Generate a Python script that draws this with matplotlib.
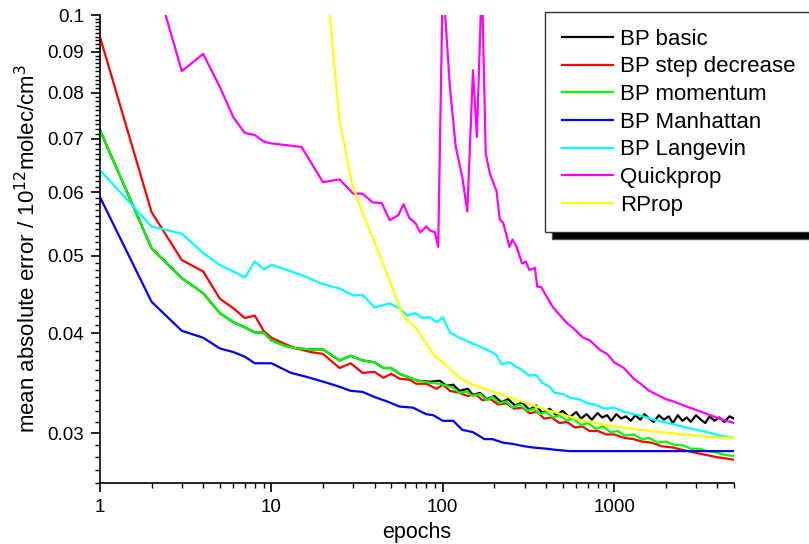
import matplotlib

matplotlib.use("Agg")
import matplotlib.pyplot as plt
from matplotlib.ticker import FixedLocator, MultipleLocator, NullFormatter, LogLocator

plt.rcParams["font.family"] = ["Liberation Sans", "DejaVu Sans"]

# epochs / mean absolute error
basic_epochs = [1, 2, 3, 4, 5, 6, 7, 8, 9, 10, 12, 14, 17, 20, 25, 29, 34, 40, 45, 50,
                56, 64, 72, 84, 96, 105, 115, 125, 140, 150, 165, 180, 200, 220, 240,
                265, 290, 320, 350, 380, 420, 460, 500, 550, 600, 640, 690, 740, 800,
                850, 910, 960, 1030, 1100, 1170, 1250, 1330, 1420, 1500, 1600, 1700,
                1820, 1950, 2080, 2200, 2350, 2500, 2650, 2800, 3000, 3200, 3400, 3600,
                3850, 4100, 4400, 4700, 5000]
basic_err = [0.0718, 0.0511, 0.0469, 0.0449, 0.0424, 0.0413, 0.0407, 0.0401, 0.0401,
             0.0392, 0.0386, 0.0383, 0.0382, 0.0382, 0.0370, 0.0375, 0.0370, 0.0368,
             0.0362, 0.0362, 0.0356, 0.0352, 0.0349, 0.0348, 0.0349, 0.0344, 0.0345,
             0.0339, 0.0341, 0.0335, 0.0337, 0.0331, 0.0334, 0.0328, 0.0331, 0.0325,
             0.0328, 0.0321, 0.0325, 0.0318, 0.0322, 0.0316, 0.0320, 0.0314, 0.0319,
             0.0313, 0.0317, 0.0312, 0.0318, 0.0314, 0.0316, 0.0311, 0.0317, 0.0313,
             0.0315, 0.0311, 0.0316, 0.0312, 0.0317, 0.0313, 0.0310, 0.0316, 0.0312,
             0.0315, 0.0309, 0.0316, 0.0311, 0.0314, 0.0310, 0.0316, 0.0312, 0.0309,
             0.0315, 0.0311, 0.0314, 0.0310, 0.0315, 0.0313]

step_epochs = [1, 2, 3, 4, 5, 6, 7, 8, 9, 10, 12, 14, 17, 20, 25, 29, 34, 40, 45, 50,
               56, 64, 70, 80, 92, 100, 110, 125, 140, 155, 170, 190, 210, 235, 260,
               290, 320, 355, 390, 430, 480, 530, 590, 650, 720, 800, 900, 1000, 1150,
               1300, 1450, 1650, 1900, 2200, 2500, 2900, 3400, 4000, 4500, 5000]
step_err = [0.0939, 0.0567, 0.0494, 0.0478, 0.0442, 0.0430, 0.0418, 0.0421, 0.0403,
            0.0395, 0.0388, 0.0383, 0.0379, 0.0377, 0.0362, 0.0367, 0.0357, 0.0358,
            0.0352, 0.0356, 0.0351, 0.0350, 0.0346, 0.0346, 0.0341, 0.0345, 0.0339,
            0.0337, 0.0334, 0.0336, 0.0330, 0.0331, 0.0326, 0.0327, 0.0322, 0.0323,
            0.0318, 0.0319, 0.0313, 0.0314, 0.0309, 0.0310, 0.0305, 0.0306, 0.0302,
            0.0302, 0.0299, 0.0299, 0.0296, 0.0295, 0.0293, 0.0292, 0.0289, 0.0288,
            0.0286, 0.0284, 0.0282, 0.0280, 0.0279, 0.0278]

mom_epochs = [1, 2, 3, 4, 5, 6, 7, 8, 9, 10, 12, 14, 17, 20, 25, 29, 34, 40, 45, 50,
              56, 64, 72, 84, 96, 105, 115, 125, 138, 150, 165, 180, 195, 215, 235,
              255, 280, 310, 340, 370, 400, 440, 480, 530, 580, 640, 700, 780, 860,
              950, 1050, 1150, 1300, 1450, 1600, 1800, 2000, 2250, 2500, 2800, 3100,
              3500, 3900, 4400, 5000]
mom_err = [0.0718, 0.0511, 0.0469, 0.0449, 0.0424, 0.0413, 0.0407, 0.0401, 0.0401,
           0.0392, 0.0386, 0.0383, 0.0382, 0.0382, 0.0370, 0.0375, 0.0370, 0.0368,
           0.0362, 0.0362, 0.0356, 0.0352, 0.0349, 0.0347, 0.0346, 0.0344, 0.0342,
           0.0337, 0.0338, 0.0334, 0.0336, 0.0330, 0.0333, 0.0327, 0.0329, 0.0323,
           0.0326, 0.0320, 0.0322, 0.0317, 0.0319, 0.0314, 0.0316, 0.0311, 0.0313,
           0.0307, 0.0309, 0.0304, 0.0306, 0.0301, 0.0302, 0.0298, 0.0299, 0.0295,
           0.0296, 0.0292, 0.0293, 0.0290, 0.0290, 0.0287, 0.0287, 0.0285, 0.0284,
           0.0282, 0.0281]

manh_epochs = [1, 2, 3, 4, 5, 6, 7, 8, 9, 10, 13, 16, 21, 25, 29, 34, 40, 47, 56, 67,
               80, 88, 100, 115, 130, 150, 175, 195, 225, 255, 300, 335, 400, 460, 550,
               650, 1000, 2000, 5000]
manh_err = [0.0592, 0.0438, 0.0403, 0.0395, 0.0383, 0.0379, 0.0374, 0.0367, 0.0367,
            0.0367, 0.0357, 0.0353, 0.0347, 0.0343, 0.0339, 0.0338, 0.0333, 0.0329,
            0.0324, 0.0323, 0.0317, 0.0316, 0.0311, 0.0311, 0.0303, 0.0301, 0.0295,
            0.0295, 0.0292, 0.0291, 0.0289, 0.0288, 0.0287, 0.0286, 0.0285, 0.0285,
            0.0285, 0.0285, 0.0285]

lang_epochs = [1, 2, 3, 4, 5, 6, 7, 8, 9, 10, 12, 15, 20, 25, 30, 34, 40, 49, 56, 62,
               69, 76, 84, 92, 100, 110, 125, 143, 165, 188, 205, 220, 245, 270, 290,
               320, 350, 380, 420, 450, 500, 560, 620, 700, 770, 870, 1000, 1150, 1400,
               1700, 2200, 2800, 3500, 4200, 5000]
lang_err = [0.0640, 0.0544, 0.0533, 0.0504, 0.0487, 0.0478, 0.0470, 0.0492, 0.0481,
            0.0487, 0.0481, 0.0473, 0.0461, 0.0455, 0.0446, 0.0447, 0.0431, 0.0436,
            0.0430, 0.0421, 0.0424, 0.0418, 0.0419, 0.0413, 0.0419, 0.0401, 0.0395,
            0.0390, 0.0385, 0.0380, 0.0376, 0.0366, 0.0368, 0.0363, 0.0360, 0.0354,
            0.0355, 0.0347, 0.0343, 0.0337, 0.0336, 0.0332, 0.0331, 0.0327, 0.0326,
            0.0322, 0.0323, 0.0319, 0.0316, 0.0312, 0.0308, 0.0304, 0.0301, 0.0298,
            0.0296]

qp_epochs = [2, 3, 4, 5, 6, 7, 8, 9, 10, 15, 20, 25, 30, 34, 39, 44, 49, 55, 59, 64,
             69, 74, 80, 84, 90, 94, 100, 110, 119, 130, 139, 150, 158, 169, 178, 188,
             206, 215, 225, 245, 255, 270, 290, 305, 320, 345, 355, 375, 400, 440, 530,
             570, 660, 720, 830, 910, 1000, 1140, 1300, 1400, 1600, 2000, 2200, 2760,
             3500, 4300, 5000]
qp_err = [0.115, 0.0851, 0.0894, 0.0813, 0.0745, 0.0712, 0.0708, 0.0695, 0.0691,
          0.0684, 0.0618, 0.0623, 0.0598, 0.0598, 0.0583, 0.0582, 0.0554, 0.0562,
          0.0580, 0.0557, 0.0550, 0.0535, 0.0544, 0.0538, 0.0535, 0.0513, 0.111,
          0.0813, 0.0684, 0.0627, 0.0568, 0.0853, 0.0704, 0.111, 0.0672, 0.0634,
          0.0602, 0.0555, 0.0550, 0.0513, 0.0524, 0.0513, 0.0489, 0.0492, 0.0480,
          0.0483, 0.0458, 0.0457, 0.0446, 0.0431, 0.0412, 0.0407, 0.0395, 0.0392,
          0.0381, 0.0377, 0.0368, 0.0362, 0.0351, 0.0347, 0.0339, 0.0331, 0.0329,
          0.0323, 0.0317, 0.0312, 0.0309]

rp_epochs = [20, 24.8, 29.5, 31.9, 34.2, 41.8, 58.6, 70.5, 87.6, 105.5, 125, 150, 215,
             310, 400, 630, 910, 1400, 2200, 3500, 5000]
rp_err = [0.125, 0.0745, 0.0616, 0.0587, 0.0565, 0.0508, 0.0421, 0.0405, 0.0377,
          0.0364, 0.0352, 0.0345, 0.0336, 0.0327, 0.0321, 0.0312, 0.0307, 0.0303,
          0.0300, 0.0297, 0.0296]

labels = ["BP basic", "BP step decrease", "BP momentum", "BP Manhattan",
          "BP Langevin", "Quickprop", "RProp"]
colors = ["#000000", "#ff0000", "#00ff00", "#0000ff", "#00ffff", "#ff00ff", "#ffff00"]
series = [(basic_epochs, basic_err), (step_epochs, step_err), (mom_epochs, mom_err),
          (manh_epochs, manh_err), (lang_epochs, lang_err), (qp_epochs, qp_err),
          (rp_epochs, rp_err)]

y_major = [0.03, 0.04, 0.05, 0.06, 0.07, 0.08, 0.09, 0.1]
y_labels = ["0.03", "0.04", "0.05", "0.06", "0.07", "0.08", "0.09", "0.1"]
x_major = [1, 10, 100, 1000]
x_labels = ["1", "10", "100", "1000"]

fig = plt.figure(figsize=(8.09, 5.44), dpi=100)
ax = fig.add_axes([0.1236, 0.1121, 0.7837, 0.8603])

for (ep, err), lab, col in zip(series, labels, colors):
    ax.plot(ep, err, color=col, lw=1.6, label=lab)

ax.set_xscale("log")
ax.set_yscale("log")
ax.set_xlim(1, 5000)
ax.set_ylim(0.026, 0.1)

ax.xaxis.set_major_locator(FixedLocator(x_major))
ax.set_xticklabels(x_labels)
ax.xaxis.set_minor_locator(LogLocator(base=10, subs=range(2, 10)))
ax.xaxis.set_minor_formatter(NullFormatter())
ax.yaxis.set_major_locator(FixedLocator(y_major))
ax.set_yticklabels(y_labels)
ax.yaxis.set_minor_locator(MultipleLocator(0.001))
ax.yaxis.set_minor_formatter(NullFormatter())

for side in ("top", "right"):
    ax.spines[side].set_visible(False)
for side in ("left", "bottom"):
    ax.spines[side].set_linewidth(1.2)
ax.tick_params(which="major", direction="out", length=6.5, width=1.2,
               labelsize=13.5, pad=5)
ax.tick_params(which="minor", direction="out", length=3.5, width=1.0)

ax.set_xlabel("epochs", fontsize=15.5, labelpad=4)
ax.set_ylabel(r"mean absolute error / 10$^{12}$molec/cm$^{3}$", fontsize=16, labelpad=5)

leg = fig.legend(loc="upper left", bbox_to_anchor=(0.6737, 0.978), fontsize=16,
                 frameon=True, fancybox=False, framealpha=1, edgecolor="#333333",
                 shadow={"facecolor": "black", "alpha": 1, "ox": 5, "oy": -5},
                 handlelength=2.3, handletextpad=0.32, labelspacing=0.3,
                 borderpad=0.75, borderaxespad=0)
leg.get_frame().set_linewidth(1.0)

fig.savefig("out.png", dpi=100)
